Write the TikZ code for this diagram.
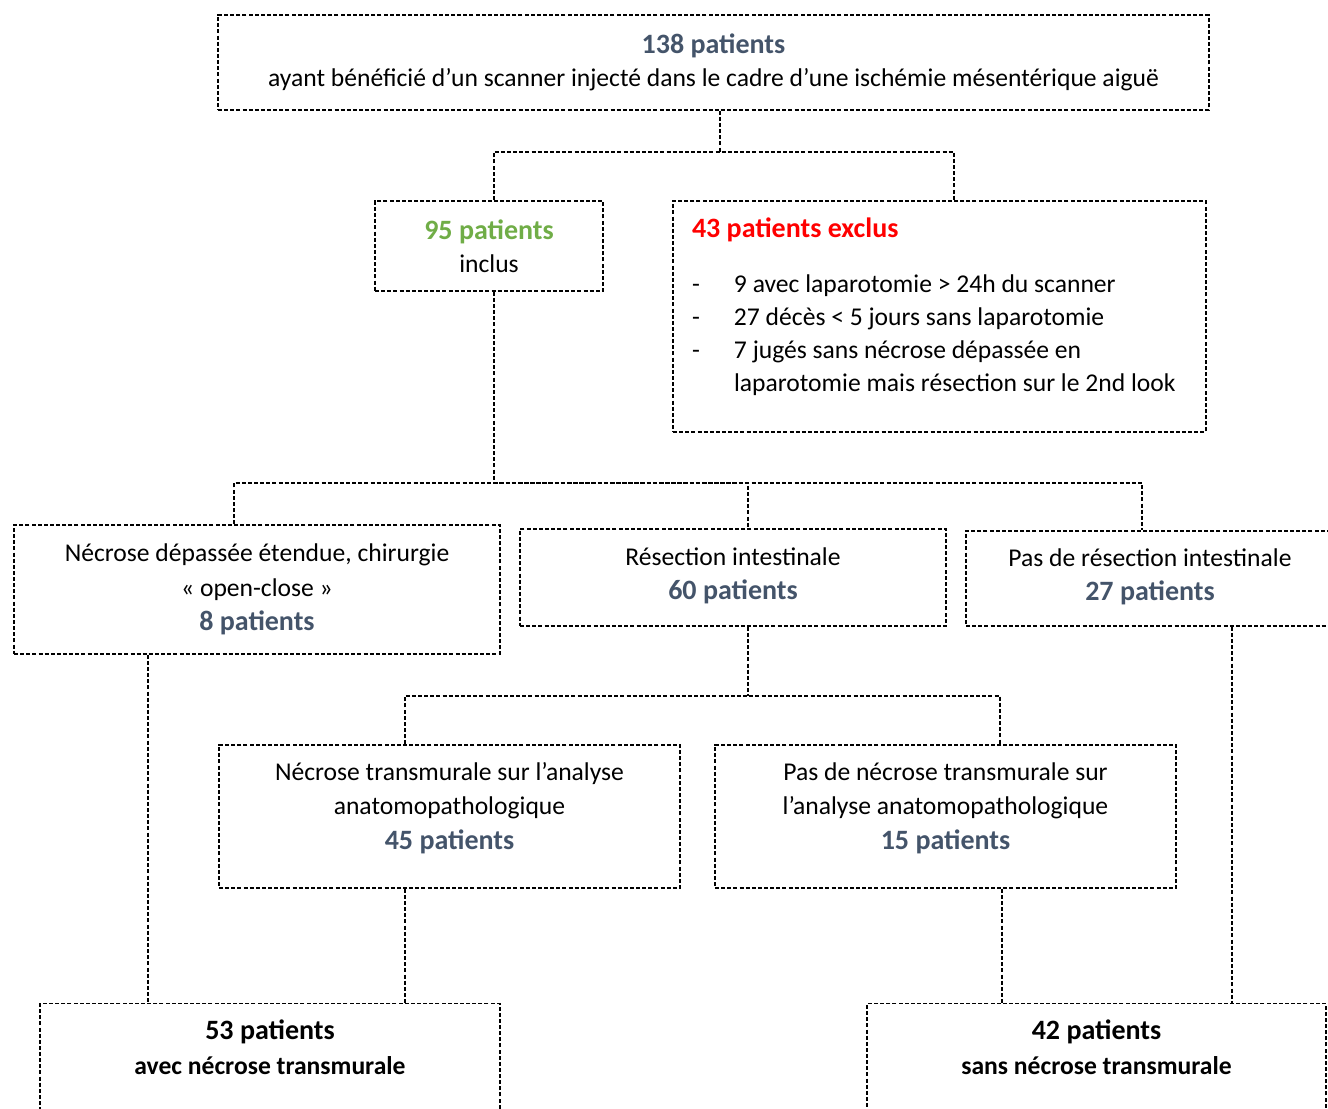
\documentclass[tikz,border=0pt]{standalone}
\usepackage{fontspec}
\usepackage{xcolor}
\usepackage{tikz}
\setmainfont{Carlito}
\definecolor{patblue}{HTML}{44546A}
\definecolor{patgreen}{HTML}{70AD47}
\definecolor{patred}{HTML}{FF0000}
\tikzset{
  box/.style={draw, line width=1.1pt, dash pattern=on 3pt off 1.6pt, align=center, inner sep=0pt},
  link/.style={line width=1.1pt, dash pattern=on 3pt off 1.6pt},
}
\newcommand{\bignum}[1]{{\fontsize{21}{26}\selectfont\bfseries #1}}
\newcommand{\np}[1]{\bignum{\color{patblue}#1}}
\newcommand{\dashitem}{\makebox[31.5pt][l]{-}}
\begin{document}
\begin{tikzpicture}[x=0.75pt,y=0.75pt,yscale=-1,xscale=1,font=\fontsize{19.2}{26}\selectfont]
\useasboundingbox (0,0) rectangle (1328,1109);
\clip (0,0) rectangle (1328,1109);
% Boxes
\node[box, minimum width=743.25pt, minimum height=71.25pt] (top) at (713.5,62.5)
  {\np{138 patients}\\[-1pt] ayant bénéficié d’un scanner injecté dans le cadre d’une ischémie mésentérique aiguë};
\node[box, minimum width=171pt, minimum height=67.5pt] (incl) at (489,246)
  {\bignum{\color{patgreen}95 patients}\\[-1pt] inclus};
\node[box, minimum width=399.75pt, minimum height=173.25pt, text width=371.25pt, align=flush left, inner xsep=14.25pt,
      font=\fontsize{19.2}{24.75}\selectfont] (excl) at (939.5,316.5)
  {\bignum{\color{patred}43 patients exclus}\\[17pt]
   \dashitem 9 avec laparotomie > 24h du scanner\\
   \dashitem 27 décès < 5 jours sans laparotomie\\
   \dashitem 7 jugés sans nécrose dépassée en\\
   \hspace*{31.5pt}laparotomie mais résection sur le 2nd look\rule[-18pt]{0pt}{0pt}};
\node[box, minimum width=364.5pt, minimum height=96.75pt] (necr) at (257,589.5)
  {Nécrose dépassée étendue, chirurgie\\ «~open-close~»\\ \np{8 patients}};
\node[box, minimum width=319.5pt, minimum height=72.75pt] (resec) at (733,577.5)
  {Résection intestinale\\ \np{60 patients}\rule[-6pt]{0pt}{0pt}};
\node[box, minimum width=276pt, minimum height=71.25pt] (nores) at (1150,578.5)
  {Pas de résection intestinale\\ \np{27 patients}\rule[-6pt]{0pt}{0pt}};
\node[box, minimum width=345.75pt, minimum height=107.25pt] (trans) at (449.5,816.5)
  {Nécrose transmurale sur l’analyse\\ anatomopathologique\\ \np{45 patients}\rule[-16pt]{0pt}{0pt}};
\node[box, minimum width=345.75pt, minimum height=107.25pt] (notrans) at (945.5,816.5)
  {Pas de nécrose transmurale sur\\ l’analyse anatomopathologique\\ \np{15 patients}\rule[-16pt]{0pt}{0pt}};
\node[box, anchor=north, minimum width=345pt, inner ysep=12pt] (res1) at (270,1003)
  {\bignum{53 patients}\\ \textbf{avec nécrose transmurale}\rule[-60pt]{0pt}{0pt}};
\node[box, anchor=north, minimum width=344.25pt, inner ysep=12pt] (res2) at (1096.5,1003)
  {\bignum{42 patients}\\ \textbf{sans nécrose transmurale}\rule[-60pt]{0pt}{0pt}};
% Connectors
\coordinate (j1) at (720,152);
\coordinate (j2) at (494,483);
\coordinate (j3) at (748,696);
\draw[link] (top.south -| j1) -- (j1);
\draw[link] ([xshift=3.75pt]incl.north) |- (j1) -| ([xshift=10.9pt]excl.north);
\draw[link] ([xshift=3.75pt]incl.south) -- (j2);
\draw[link] ([xshift=-17.25pt]necr.north) |- (j2) -| ([xshift=11.25pt]resec.north);
\draw[link] (j2) -| ([xshift=-6pt]nores.north);
\draw[link] ([xshift=11.25pt]resec.south) -- (j3);
\draw[link] ([xshift=-33.4pt]trans.north) |- (j3) -| ([xshift=40.9pt]notrans.north);
\draw[link] ([xshift=-81.75pt]necr.south) -- ([xshift=-81.75pt]necr.south |- res1.north);
\draw[link] ([xshift=-33.4pt]trans.south) -- ([xshift=-33.4pt]trans.south |- res1.north);
\draw[link] ([xshift=42.4pt]notrans.south) -- ([xshift=42.4pt]notrans.south |- res2.north);
\draw[link] ([xshift=61.5pt]nores.south) -- ([xshift=61.5pt]nores.south |- res2.north);
\end{tikzpicture}
\end{document}
